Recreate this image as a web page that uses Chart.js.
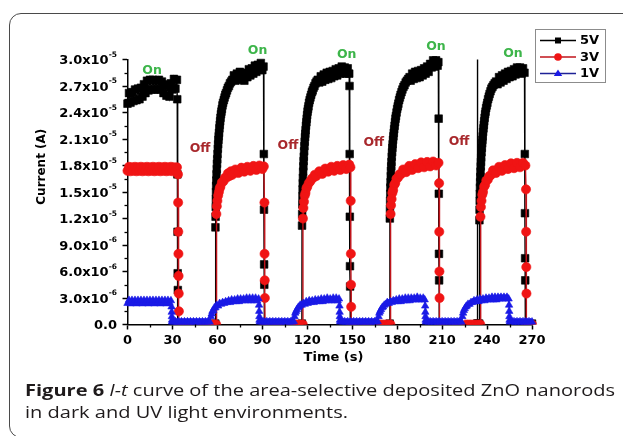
<!DOCTYPE html>
<html><head><meta charset="utf-8">
<script src="https://cdn.jsdelivr.net/npm/chart.js@4.4.1/dist/chart.umd.min.js"></script>
<style>
html,body{margin:0;padding:0;background:#fff;width:623px;height:436px;overflow:hidden;}
#frame{position:absolute;left:8.5px;top:12.5px;width:700px;height:425px;border:1.5px solid #4a4a4a;border-radius:12px;box-sizing:border-box;}
#c{position:absolute;left:0;top:0;}
.cap{position:absolute;left:25px;font-family:"Open Sans",sans-serif;font-size:16px;line-height:22px;color:#1e1a1b;white-space:nowrap;transform-origin:0 0;}
</style></head><body>
<div id="frame"></div>
<canvas id="c" width="623" height="436"></canvas>
<div class="cap" id="cap1" style="top:378.5px"><b>Figure 6</b> <i>I-t</i> curve of the area-selective deposited ZnO nanorods</div>
<div class="cap" id="cap2" style="top:400.8px">in dark and UV light environments.</div>
<script>
// ---------- DATA (current in units of 1e-6 A) ----------
const seriesNames = ['5V', '3V', '1V'];

const time5V = [
  0,1,2,3,4,5,6,7,8,9,10,11,12,13,14,15,16,17,18,19,20,21,22,23,24,25,26,27,28,29,30,31,32,33,
  33.2,33.3,33.4,33.5,33.6,33.7,
  58.6,
  58.7,58.8,58.9,59.0,59.1,59.2,59.3,59.45,59.6,59.75,59.9,60.1,60.3,60.5,60.7,60.9,61.1,61.35,61.6,61.85,
  62.1,62.4,62.7,63.0,63.4,63.8,64.3,64.8,65.3,65.8,66.4,67,67.7,68.4,69.2,70,
  71,72,73,74,75,76,77,78,79,80,81,82,83,84,85,86,87,88,89,90,90.8,
  91.0,91.1,91.2,91.3,91.4,
  116.4,
  116.5,116.6,116.7,116.8,116.9,117.0,117.1,117.25,117.4,117.55,117.7,117.9,118.1,118.3,118.5,118.7,118.9,119.15,119.4,119.65,
  119.9,120.2,120.5,120.8,121.2,121.6,122.1,122.6,123.1,123.6,124.2,124.8,125.5,126.2,127,
  128,129,130,131,132,133,134,135,136,137,138,139,140,141,142,143,144,145,146,147,148,
  148.2,148.3,148.4,148.5,148.6,148.7,
  175.0,
  175.1,175.2,175.3,175.4,175.5,175.6,175.75,175.9,176.05,176.2,176.4,176.6,176.8,177.0,177.25,177.5,177.75,178.0,178.3,178.6,
  178.9,179.2,179.6,180.0,180.4,180.8,181.3,181.8,182.3,182.9,183.5,184.2,184.9,185.7,186.5,187.4,188.3,
  189,190,191,192,193,194,195,196,197,198,199,200,201,202,203,204,205,206,207,207.5,
  207.7,207.8,207.9,208.0,208.1,
  233.5,233.6,233.7,
  234.8,
  234.9,235.0,235.1,235.2,235.3,235.4,235.5,235.65,235.8,235.95,236.1,236.3,236.5,236.7,236.9,237.1,237.35,237.6,237.85,238.1,
  238.4,238.7,239.0,239.4,239.8,240.2,240.7,241.2,241.7,242.3,242.9,243.6,244.3,245.1,246.0,
  247,248,249,250,251,252,253,254,255,256,257,258,259,260,261,262,263,264,265,
  265.2,265.3,265.4,265.5,265.6,
  270
];
const current5V = [
  25.0,26.2,25.1,26.3,25.3,26.6,25.4,26.7,25.5,26.8,25.8,27.2,26.2,27.6,26.5,27.7,26.6,27.7,26.6,27.6,26.6,27.7,26.6,27.5,26.2,27.2,25.9,27.0,25.8,27.3,26.6,27.8,26.7,27.7,
  25.5,17.0,10.5,5.8,3.9,0.1,
  0.1,
  11.0,12.2,13.3,14.2,15.0,15.7,16.3,17.0,17.6,18.2,18.7,19.3,19.9,20.4,20.9,21.3,21.7,22.2,22.6,23.0,
  23.4,23.8,24.1,24.4,24.8,25.1,25.4,25.7,26.0,26.2,26.5,26.8,27.0,27.3,27.5,27.7,
  28.2,27.6,28.4,27.9,28.6,27.7,28.4,27.6,28.5,28.0,28.9,28.2,29.0,28.4,29.3,28.6,29.4,28.8,29.6,28.8,29.2,
  19.3,13.0,6.8,4.5,0.1,
  0.1,
  11.2,12.5,13.6,14.5,15.3,16.0,16.6,17.3,17.9,18.5,19.0,19.6,20.2,20.7,21.2,21.6,22.0,22.5,22.9,23.3,
  23.7,24.1,24.4,24.7,25.1,25.4,25.7,26.0,26.3,26.5,26.8,27.0,27.3,27.5,27.7,
  27.4,28.1,27.5,28.3,27.7,28.5,27.8,28.6,27.9,28.7,28.1,28.9,28.2,29.0,28.4,29.2,28.5,29.1,28.4,29.0,28.4,
  27.0,19.3,12.2,6.6,4.3,0.1,
  0.1,
  12.0,13.1,14.0,14.8,15.5,16.1,16.8,17.4,17.9,18.4,19.0,19.5,20.0,20.4,20.9,21.3,21.7,22.1,22.5,22.9,
  23.3,23.6,24.0,24.4,24.7,25.0,25.4,25.7,26.0,26.3,26.6,26.9,27.1,27.4,27.6,27.8,28.0,
  27.6,28.4,27.8,28.6,27.9,28.7,28.0,28.8,28.2,29.0,28.4,29.2,28.6,29.5,29.1,29.9,29.2,29.9,29.3,29.7,
  23.3,14.8,8.0,5.0,0.1,
  0.1,30.0,0.1,
  0.1,
  11.8,13.0,14.0,14.8,15.5,16.1,16.7,17.3,17.9,18.4,18.9,19.5,20.0,20.5,20.9,21.3,21.8,22.2,22.6,23.0,
  23.4,23.8,24.1,24.5,24.8,25.1,25.5,25.8,26.1,26.4,26.7,26.9,27.1,27.3,27.5,
  27.2,28.0,27.4,28.2,27.6,28.4,27.8,28.6,28.0,28.7,28.1,28.9,28.3,29.1,28.5,29.1,28.4,29.0,28.5,
  19.3,12.6,7.5,5.0,0.1,
  0.1
];

const time3V = [
  0,1,2,3,4,5,6,7,8,9,10,11,12,13,14,15,16,17,18,19,20,21,22,23,24,25,26,27,28,29,30,31,32,33,
  33.7,33.8,33.9,34.0,34.1,34.2,34.3,34.4,
  40,50,55,56,57,58,59.2,
  59.3,59.6,60.0,60.5,61.0,61.5,62.0,63,64,65,66,67,68,69,70,72,74,76,78,80,82,84,86,88,90,91,
  91.4,91.5,91.6,91.7,91.8,
  100,110,112,114,116,117.0,
  117.1,117.4,117.8,118.3,118.8,119.4,120,121,122,123,124,125,126,128,130,132,134,136,138,140,142,144,146,148,148.8,
  149.0,149.1,149.2,149.3,149.4,
  160,168,170,172,174,175.5,
  175.6,175.9,176.3,176.8,177.3,178.0,178.7,179.5,180.5,181.5,182.5,184,186,188,190,192,194,196,198,200,202,204,206,207.6,
  208.0,208.1,208.2,208.3,208.4,
  220,226,228,230,232,234,235.5,
  235.6,235.9,236.3,236.8,237.3,238.0,238.7,239.5,240.5,241.5,242.5,244,246,248,250,252,254,256,258,260,262,264,265.6,
  266.0,266.1,266.2,266.3,266.4,
  268,270
];
const current3V = [
  17.4,17.85,17.35,17.8,17.4,17.85,17.35,17.8,17.4,17.85,17.35,17.8,17.4,17.85,17.35,17.8,17.4,17.85,17.35,17.8,
  17.4,17.85,17.35,17.8,17.4,17.85,17.35,17.8,17.4,17.85,17.35,17.8,17.4,17.8,
  17.0,13.8,10.5,8.0,5.5,3.5,1.5,0.0,
  0,0,0,0,0,0,0,
  12.5,13.4,14.0,14.6,15.0,15.4,15.6,16.1,16.2,16.6,16.6,17.1,16.8,17.35,16.95,17.55,17.15,17.75,17.3,17.85,17.4,17.95,17.5,18.0,17.6,17.9,
  13.8,8.0,5.0,3.0,0.0,
  0,0,0,0,0,0,
  12.0,13.2,13.9,14.6,14.9,15.4,15.6,16.0,16.2,16.5,16.6,16.95,16.8,17.35,17.05,17.65,17.3,17.85,17.4,17.95,17.5,18.05,17.6,18.1,17.8,
  14.0,8.0,4.5,2.0,0.0,
  0,0,0,0,0,0,
  12.5,13.5,14.2,14.9,15.2,15.8,16.0,16.5,16.6,17.0,17.0,17.55,17.25,17.95,17.5,18.15,17.7,18.35,17.8,18.4,17.9,18.45,18.0,18.3,
  16.0,10.5,6.0,3.0,0.0,
  0,0,0,0,0,0,0,
  12.2,13.3,14.0,14.7,15.0,15.6,15.8,16.3,16.4,16.8,16.9,17.45,17.15,17.85,17.4,18.05,17.6,18.25,17.7,18.3,17.8,18.3,18.0,
  15.3,10.5,6.5,3.5,0.0,
  0,0
];

const time1V = [
  0,1,2,3,4,5,6,7,8,9,10,11,12,13,14,15,16,17,18,19,20,21,22,23,24,25,26,27,28,29,
  29.4,29.5,29.6,29.7,29.8,
  30,31,32,33,34,35,36,37,38,39,40,41,42,43,44,45,46,47,48,49,50,51,52,53,54,55,
  55.7,56.2,56.7,57.3,58.0,58.7,
  59.5,60.5,61.5,62.5,63.5,64.5,65.5,66.5,67.5,68.5,69.5,70.5,71.5,72.5,73.5,74.5,75.5,76.5,77.5,78.5,79.5,80.5,81.5,82.5,83.5,84.5,85.5,86.5,87.5,
  87.8,87.9,88.0,88.1,88.2,
  89,90,91,92,93,94,95,96,97,98,99,100,101,102,103,104,105,106,107,108,109,110,111,
  111.5,112.0,112.5,113.1,113.8,114.5,115.3,
  116.3,117.3,118.3,119.3,120.3,121.3,122.3,123.3,124.3,125.3,126.3,127.3,128.3,129.3,130.3,131.3,132.3,133.3,134.3,135.3,136.3,137.3,138.3,139.3,140.3,141.2,
  141.5,141.6,141.7,141.8,141.9,
  143,144,145,146,147,148,149,150,151,152,153,154,155,156,157,158,159,160,161,162,163,164,165,166,167,
  167.6,168.1,168.6,169.2,169.9,170.6,171.4,
  172.4,173.4,174.4,175.4,176.4,177.4,178.4,179.4,180.4,181.4,182.4,183.4,184.4,185.4,186.4,187.4,188.4,189.4,190.4,191.4,192.4,193.4,194.4,195.4,196.4,197.4,198.4,
  198.7,198.8,198.9,199.0,199.1,
  200,201,202,203,204,205,206,207,208,209,210,211,212,213,214,215,216,217,218,219,220,221,222,223,
  223.5,224.0,224.5,225.1,225.8,226.5,227.3,
  228.3,229.3,230.3,231.3,232.3,233.3,234.3,235.3,236.3,237.3,238.3,239.3,240.3,241.3,242.3,243.3,244.3,245.3,246.3,247.3,248.3,249.3,250.3,251.3,252.3,253.3,254.4,
  254.7,254.8,254.9,255.0,255.1,
  256,257,258,259,260,261,262,263,264,265,266,267,268,269,270
];
const current1V = [
  2.4,2.75,2.35,2.75,2.45,2.75,2.35,2.75,2.45,2.75,2.35,2.75,2.45,2.75,2.35,2.75,2.45,2.75,2.35,2.75,2.45,2.75,2.35,2.75,2.45,2.75,2.35,2.75,2.45,2.7,
  2.0,1.4,0.9,0.5,0.28,
  0.32,0.24,0.32,0.24,0.32,0.24,0.32,0.24,0.32,0.24,0.32,0.24,0.32,0.24,0.32,0.24,0.32,0.24,0.32,0.24,0.32,0.24,0.32,0.24,0.32,0.24,
  0.9,1.2,1.5,1.6,1.9,1.9,
  2.2,2.1,2.4,2.3,2.5,2.4,2.6,2.5,2.7,2.5,2.8,2.6,2.8,2.6,2.9,2.6,2.9,2.7,2.9,2.7,3.0,2.7,3.0,2.7,3.0,2.7,3.0,2.7,2.9,
  2.2,1.5,0.9,0.5,0.28,
  0.32,0.24,0.32,0.24,0.32,0.24,0.32,0.24,0.32,0.24,0.32,0.24,0.32,0.24,0.32,0.24,0.32,0.24,0.32,0.24,0.32,0.24,0.32,
  0.9,1.3,1.5,1.7,1.9,2.0,2.2,
  2.2,2.4,2.3,2.6,2.4,2.7,2.5,2.7,2.5,2.8,2.6,2.8,2.6,2.9,2.6,2.9,2.7,3.0,2.7,2.9,2.7,3.0,2.7,3.0,2.7,2.9,
  2.1,1.4,0.9,0.5,0.28,
  0.32,0.24,0.32,0.24,0.32,0.24,0.32,0.24,0.32,0.24,0.32,0.24,0.32,0.24,0.32,0.24,0.32,0.24,0.32,0.24,0.32,0.24,0.32,0.24,0.32,
  0.9,1.3,1.5,1.7,1.9,2.0,2.2,
  2.3,2.5,2.4,2.6,2.5,2.7,2.6,2.8,2.6,2.9,2.6,2.9,2.7,3.0,2.7,3.0,2.7,3.0,2.8,3.0,2.8,3.1,2.8,3.0,2.8,3.0,2.8,
  2.1,1.4,0.9,0.5,0.28,
  0.32,0.24,0.32,0.24,0.32,0.24,0.32,0.24,0.32,0.24,0.32,0.24,0.32,0.24,0.32,0.24,0.32,0.24,0.32,0.24,0.32,0.24,0.32,0.24,
  0.9,1.3,1.6,1.8,2.0,2.1,2.3,
  2.3,2.5,2.5,2.7,2.6,2.8,2.6,2.9,2.7,2.9,2.7,3.0,2.8,3.0,2.8,3.1,2.8,3.1,2.8,3.1,2.9,3.1,2.9,3.1,2.9,3.1,2.9,
  2.2,1.5,0.9,0.5,0.28,
  0.32,0.24,0.32,0.24,0.32,0.24,0.32,0.24,0.32,0.24,0.32,0.24,0.32,0.24,0.3
];

const xTickLabels = ['0','30','60','90','120','150','180','210','240','270'];
const xMinorTicks = [15,45,75,105,135,165,195,225,255];
const yTickValues = [0,3,6,9,12,15,18,21,24,27,30];
const yTickMantissa = ['0.0','3.0x10','6.0x10','9.0x10','1.2x10','1.5x10','1.8x10','2.1x10','2.4x10','2.7x10','3.0x10'];
const yTickExponent = ['','-6','-6','-6','-5','-5','-5','-5','-5','-5','-5'];
const yMinorTicks = [1.5,4.5,7.5,10.5,13.5,16.5,19.5,22.5,25.5,28.5];

const noteText = ['On','On','On','On','On','Off','Off','Off','Off'];
const noteTime = [16.4, 86.8, 146.3, 205.9, 257.3, 48.4, 107.1, 164.4, 221.3];
const noteCurrent = [28.7, 31.0, 30.5, 31.4, 30.6, 19.95, 20.2, 20.6, 20.7];

// ---------- STYLE ----------
const FONT = '"DejaVu Sans", sans-serif';
const lineColors = ['#000000', '#c0141b', '#1e2296'];
const markColors = ['#000000', '#f01414', '#1a1ae6'];
const markStyles = ['rect', 'circle', 'triangle'];
const markRadius = [5.4, 4.6, 4.3];

function pts(t, v) {
  const n = Math.min(t.length, v.length), out = [];
  for (let i = 0; i < n; i++) out.push({x: t[i], y: v[i]});
  return out;
}

const overlay = {
  id: 'overlay',
  afterDraw(chart) {
    const {ctx, chartArea: a, scales: {x, y}} = chart;
    ctx.save();
    ctx.strokeStyle = '#000'; ctx.lineWidth = 1.3;
    yMinorTicks.forEach(v => { const p = Math.round(y.getPixelForValue(v)) + 0.5; ctx.beginPath(); ctx.moveTo(a.left - 3, p); ctx.lineTo(a.left, p); ctx.stroke(); });
    xMinorTicks.forEach(v => { const p = Math.round(x.getPixelForValue(v)) + 0.5; ctx.beginPath(); ctx.moveTo(p, a.bottom); ctx.lineTo(p, a.bottom + 3); ctx.stroke(); });

    ctx.fillStyle = '#000'; ctx.textAlign = 'left'; ctx.textBaseline = 'alphabetic';
    const right = a.left - 10.5;
    yTickValues.forEach((v, i) => {
      const py = y.getPixelForValue(v);
      ctx.font = 'bold 7.5px ' + FONT;
      const e = yTickExponent[i];
      const we = e ? ctx.measureText(e).width : 0;
      ctx.font = 'bold 13px ' + FONT;
      const wm = ctx.measureText(yTickMantissa[i]).width;
      ctx.fillText(yTickMantissa[i], right - we - wm, py + 4.7);
      if (e) { ctx.font = 'bold 7.5px ' + FONT; ctx.fillText(e, right - we, py - 2.8); }
    });

    ctx.font = 'bold 13px ' + FONT; ctx.textAlign = 'center'; ctx.textBaseline = 'middle';
    ctx.fillText('Time (s)', 333.5, 358);
    ctx.save(); ctx.translate(41.7, 166.7); ctx.rotate(-Math.PI / 2);
    ctx.font = 'bold 12px ' + FONT; ctx.fillText('Current (A)', 0, 0); ctx.restore();

    ctx.font = 'bold 12.5px ' + FONT;
    noteText.forEach((t, i) => {
      ctx.fillStyle = t === 'On' ? '#3db54a' : '#a8282c';
      ctx.fillText(t, x.getPixelForValue(noteTime[i]), y.getPixelForValue(noteCurrent[i]));
    });

    ctx.strokeStyle = '#8c8c8c'; ctx.lineWidth = 1;
    ctx.strokeRect(535.5, 29.5, 70, 53);
    const rows = [40.5, 57, 73.5];
    seriesNames.forEach((name, i) => {
      const ry = rows[i];
      ctx.strokeStyle = lineColors[i]; ctx.lineWidth = 1.6;
      ctx.beginPath(); ctx.moveTo(540, ry); ctx.lineTo(576, ry); ctx.stroke();
      ctx.fillStyle = markColors[i];
      ctx.beginPath();
      if (i === 0) ctx.rect(555, ry - 3, 6, 6);
      else if (i === 1) ctx.arc(558, ry, 3.8, 0, Math.PI * 2);
      else { ctx.moveTo(558, ry - 4); ctx.lineTo(562.2, ry + 2.6); ctx.lineTo(553.8, ry + 2.6); ctx.closePath(); }
      ctx.fill();
      ctx.fillStyle = '#000'; ctx.font = 'bold 13px ' + FONT; ctx.textAlign = 'left';
      ctx.fillText(name, 580, ry + 0.5);
    });
    ctx.restore();
  }
};

const seriesTime = [time5V, time3V, time1V];
const seriesCurrent = [current5V, current3V, current1V];
const datasets = seriesNames.map((name, i) => ({
  label: name,
  data: pts(seriesTime[i], seriesCurrent[i]),
  showLine: true,
  tension: 0,
  borderColor: lineColors[i],
  borderWidth: 1.4,
  pointStyle: markStyles[i],
  pointRadius: i === 0 ? (c => (c.raw && c.raw.y >= 30 ? 0 : markRadius[0])) : markRadius[i],
  pointBackgroundColor: markColors[i],
  pointBorderColor: markColors[i],
  pointBorderWidth: 0.6,
  order: 2 - i,
  clip: {left: 6, right: 6, top: 8, bottom: 0}
}));

new Chart(document.getElementById('c'), {
  type: 'scatter',
  data: {datasets},
  options: {
    responsive: false,
    animation: false,
    events: [],
    layout: {padding: {left: 0, top: 59.5, right: 91, bottom: 0}},
    plugins: {legend: {display: false}, tooltip: {enabled: false}},
    scales: {
      x: {
        type: 'linear', min: 0, max: 270,
        afterFit: s => { s.height = 111.5; },
        ticks: {stepSize: 30, padding: 3, color: '#000', font: {family: FONT, size: 13, weight: 'bold'},
                callback: (v, i) => xTickLabels[i]},
        grid: {display: true, drawOnChartArea: false, drawTicks: true, tickLength: 5, tickWidth: 1.5, tickColor: '#000', color: '#000'},
        border: {display: true, color: '#000', width: 1.5},
        title: {display: false}
      },
      y: {
        type: 'linear', min: 0, max: 30,
        afterFit: s => { s.width = 127.5; },
        ticks: {stepSize: 3, display: false},
        grid: {display: true, drawOnChartArea: false, drawTicks: true, tickLength: 5, tickWidth: 1.5, tickColor: '#000', color: '#000'},
        border: {display: true, color: '#000', width: 1.5},
        title: {display: false}
      }
    }
  },
  plugins: [overlay]
});

(function () {
  const c1 = document.getElementById('cap1'), c2 = document.getElementById('cap2');
  const w = c1.getBoundingClientRect().width;
  const s = 590 / w;
  c1.style.transform = 'scaleX(' + s + ')';
  c2.style.transform = 'scaleX(' + s + ')';
})();
</script>
</body></html>
